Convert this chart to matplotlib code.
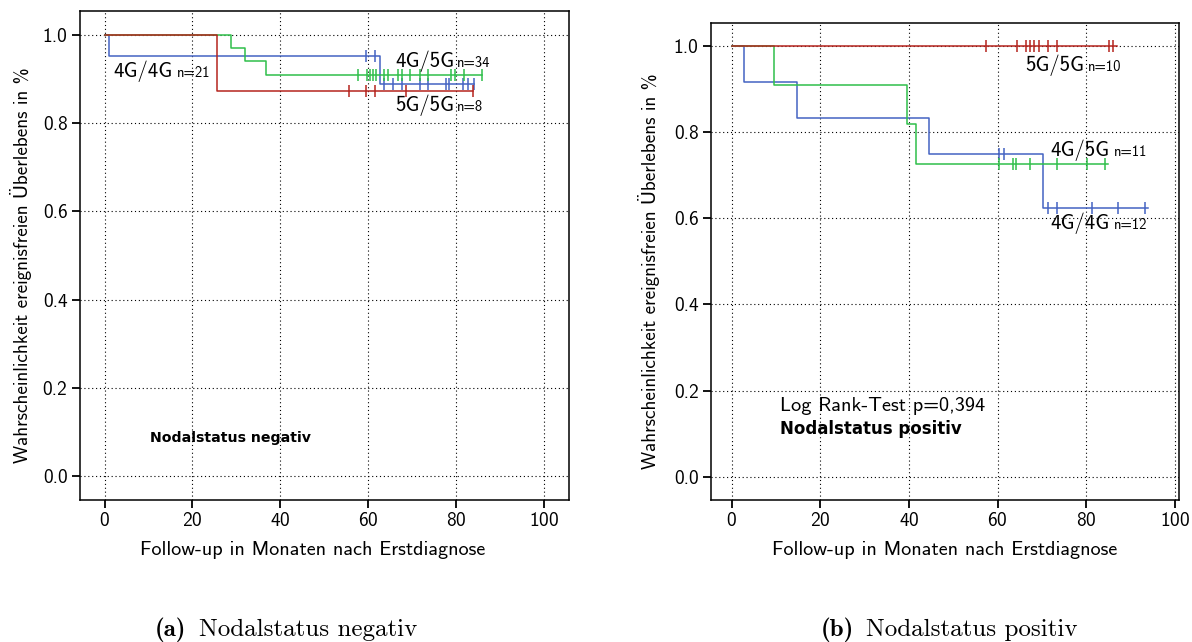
import matplotlib
matplotlib.use("Agg")
import matplotlib.pyplot as plt
import numpy as np

plt.rcParams['font.family'] = ['cmss10', 'DejaVu Sans']
plt.rcParams['axes.unicode_minus'] = False
plt.rcParams['axes.formatter.use_mathtext'] = True

BLUE = '#4463c2'
GREEN = '#2fbf4a'
RED = '#b5241e'

# --- Nodalstatus negativ ---
neg_44_times = [0, 1.0, 62.7, 84.2]
neg_44_surv = [1.0, 0.952, 0.889, 0.889]
neg_44_cens = [59.6, 61.5, 63.6, 65.7, 67.7, 71.7, 73.6, 77.8, 78.5, 81.5, 82.7, 84.2]

neg_45_times = [0, 28.8, 31.9, 36.8, 85.8]
neg_45_surv = [1.0, 0.970, 0.940, 0.910, 0.910]
neg_45_cens = [57.6, 59.7, 60.4, 61.1, 61.8, 63.6, 64.6, 66.8, 67.6, 69.6,
               71.7, 73.6, 78.9, 79.7, 81.9, 85.8]

neg_55_times = [0, 25.7, 83.8]
neg_55_surv = [1.0, 0.872, 0.872]
neg_55_cens = [55.6, 59.6, 61.5, 68.7, 83.8]

# --- Nodalstatus positiv ---
pos_44_times = [0, 2.8, 14.7, 44.5, 70.3, 94.0]
pos_44_surv = [1.0, 0.917, 0.833, 0.750, 0.625, 0.625]
pos_44_cens = [60.3, 61.3, 71.3, 73.3, 81.2, 87.2, 93.2]

pos_45_times = [0, 9.6, 39.6, 41.6, 84.9]
pos_45_surv = [1.0, 0.909, 0.818, 0.727, 0.727]
pos_45_cens = [60.3, 63.5, 64.1, 67.3, 73.3, 80.1, 84.2]

pos_55_times = [0, 86.8]
pos_55_surv = [1.0, 1.0]
pos_55_cens = [57.4, 64.3, 66.4, 67.3, 68.2, 69.2, 71.4, 73.3, 85.2, 86.1]

y_ticks = [0.0, 0.2, 0.4, 0.6, 0.8, 1.0]
x_ticks = [0, 20, 40, 60, 80, 100]


def km_curve(ax, times, surv, cens, color):
    ax.step(times, surv, where='post', color=color, lw=1.1)
    cy = [surv[np.searchsorted(times, c, side='right') - 1] for c in cens]
    ax.plot(cens, cy, ls='none', marker='|', ms=8, mew=1.1, color=color)


def group_label(ax, x, y, big, small, xs):
    ax.text(x, y, big, fontsize=15, va='baseline', ha='left')
    ax.text(xs, y, small, fontsize=10.5, va='baseline', ha='left')


def style_axes(ax, xlim):
    ax.set_xlim(*xlim)
    ax.set_ylim(-0.054, 1.054)
    ax.set_xticks(x_ticks)
    ax.set_yticks(y_ticks)
    ax.set_yticklabels([f"{v:.1f}" for v in y_ticks])
    ax.grid(True, color='black', ls=(0, (1, 2.5)), lw=0.8)
    ax.tick_params(direction='out', length=6, width=1.3, labelsize=14, pad=3)
    for s in ax.spines.values():
        s.set_linewidth(1.1)
    ax.set_xlabel("Follow-up in Monaten nach Erstdiagnose", fontsize=14.5)
    ax.set_ylabel("Wahrscheinlichkeit ereignisfreien Überlebens in %", fontsize=13.8)


fig = plt.figure(figsize=(11.92, 6.42), dpi=100)
ax1 = fig.add_axes([0.0671, 0.2212, 0.4102, 0.7617])
ax2 = fig.add_axes([0.5965, 0.2212, 0.3926, 0.7434])

style_axes(ax1, (-5.6, 105.7))
ax1.yaxis.set_label_coords(-0.098, 0.48)
ax1.xaxis.set_label_coords(0.476, -0.083)
km_curve(ax1, neg_44_times, neg_44_surv, neg_44_cens, BLUE)
km_curve(ax1, neg_45_times, neg_45_surv, neg_45_cens, GREEN)
km_curve(ax1, neg_55_times, neg_55_surv, neg_55_cens, RED)
group_label(ax1, 2.0, 0.904, "4G/4G", "n=21", 16.4)
group_label(ax1, 66.1, 0.927, "4G/5G", "n=34", 80.1)
group_label(ax1, 66.1, 0.827, "5G/5G", "n=8", 80.1)
ax1.text(10.4, 0.078, "Nodalstatus negativ", fontsize=10.2, fontweight='bold',
         family='DejaVu Sans', va='baseline')

style_axes(ax2, (-4.7, 100.9))
ax2.yaxis.set_label_coords(-0.108, 0.48)
ax2.xaxis.set_label_coords(0.5, -0.085)
km_curve(ax2, pos_44_times, pos_44_surv, pos_44_cens, BLUE)
km_curve(ax2, pos_45_times, pos_45_surv, pos_45_cens, GREEN)
km_curve(ax2, pos_55_times, pos_55_surv, pos_55_cens, RED)
group_label(ax2, 66.2, 0.941, "5G/5G", "n=10", 80.4)
group_label(ax2, 71.8, 0.744, "4G/5G", "n=11", 86.3)
group_label(ax2, 71.8, 0.574, "4G/4G", "n=12", 86.3)
ax2.text(10.9, 0.153, "Log Rank-Test p=0,394", fontsize=14.6, va='baseline')
ax2.text(10.9, 0.099, "Nodalstatus positiv", fontsize=12, fontweight='bold',
         family='DejaVu Sans', va='baseline')

# sub-figure captions
cap_y = 1 - 636 / 642
fig.text(155 / 1192, cap_y, "(a)", family='cmb10', fontsize=18, va='baseline')
fig.text(199 / 1192, cap_y, "Nodalstatus negativ", family='cmr10', fontsize=18, va='baseline')
fig.text(821 / 1192, cap_y, "(b)", family='cmb10', fontsize=18, va='baseline')
fig.text(866 / 1192, cap_y, "Nodalstatus positiv", family='cmr10', fontsize=18, va='baseline')

fig.savefig("out.png", dpi=100)
